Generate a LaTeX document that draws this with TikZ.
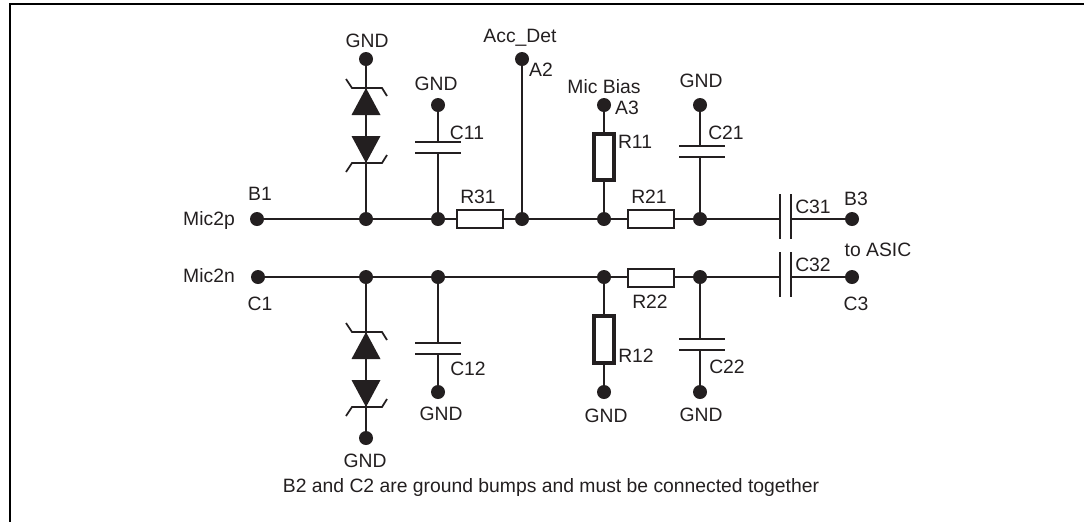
\documentclass[tikz,border=0pt]{standalone}
\usepackage{fontspec}
\setmainfont{Liberation Sans}
\usetikzlibrary{arrows.meta}
\definecolor{ink}{HTML}{231F20}
\tikzset{
    wire/.style={draw=ink, line width=1pt},
    dot/.style={circle, fill=ink, inner sep=0pt, minimum size=0.28cm},
    lbl/.style={text=ink, inner sep=0pt, font=\fontsize{11}{13}\selectfont},
    rstr/.style={rectangle, draw=ink, fill=white, line width=1pt, inner sep=0pt, minimum width=0.91cm, minimum height=0.37cm},
    rstrv/.style={rectangle, draw=ink, fill=white, line width=2.2pt, inner sep=0pt, minimum width=0.4cm, minimum height=0.93cm},
    plateh/.style={rectangle, fill=ink, inner sep=0pt, minimum width=0.92cm, minimum height=0.036cm},
    platev/.style={rectangle, fill=ink, inner sep=0pt, minimum width=0.036cm, minimum height=0.9cm},
    tvs/.pic={
        \fill[ink] (0,0) -- (-14.5,27) -- (14.5,27) -- cycle;
        \draw[ink, line width=1pt] (-20,-9) -- (-14,0) -- (16,0) -- (21,8);
    }
}
\begin{document}
\begin{tikzpicture}[x=0.02cm, y=-0.02cm]

    \useasboundingbox (0,0) rectangle (1084,522);
    \draw[black, line width=1.1pt] (1084,4) -- (10,4) -- (10,522);

    % upper line
    \node[dot] (B1) at (257,219) {};
    \node[dot] (jD1) at (366,219) {};
    \node[dot] (jC11) at (438,219) {};
    \node[rstr] (R31) at (480,219) {};
    \node[dot] (A2j) at (522,219) {};
    \node[dot] (jR11) at (604,219) {};
    \node[rstr] (R21) at (651,219) {};
    \node[dot] (jC21) at (700,219) {};
    \node[platev] (C31a) at (780,216.5) {};
    \node[platev] (C31b) at (791,216.5) {};
    \node[dot] (B3) at (852,219) {};
    \draw[wire] (B1) -- (jD1) -- (jC11) -- (R31) -- (A2j) -- (jR11) -- (R21) -- (jC21) -- (jC21 -| C31a);
    \draw[wire] (C31b |- B3) -- (B3);

    % lower line
    \node[dot] (C1) at (258,277) {};
    \node[dot] (jD2) at (366,277) {};
    \node[dot] (jC12) at (438,277) {};
    \node[dot] (jR12) at (604,277) {};
    \node[rstr] (R22) at (651,278) {};
    \node[dot] (jC22) at (700,277) {};
    \node[platev] (C32a) at (780,274.5) {};
    \node[platev] (C32b) at (791,274.5) {};
    \node[dot] (C3) at (852,277) {};
    \draw[wire] (C1) -- (jD2) -- (jC12) -- (jR12) -- (jR12 -| R22.west);
    \draw[wire] (jC22 -| R22.east) -- (jC22) -- (jC22 -| C32a);
    \draw[wire] (C32b |- C3) -- (C3);

    % protection diodes
    \node[dot] (gD1) at (366,59) {};
    \node[dot] (gD2) at (366,438) {};
    \draw[wire] (gD1) -- (jD1);
    \draw[wire] (jD2) -- (gD2);
    \pic at (366,88) {tvs};
    \pic[yscale=-1] at (366,163) {tvs};
    \pic at (366,332) {tvs};
    \pic[yscale=-1] at (366,407) {tvs};

    % capacitors to ground
    \node[dot] (gC11) at (438,105) {};
    \node[plateh] (C11a) at (438,142) {};
    \node[plateh] (C11b) at (438,153) {};
    \draw[wire] (gC11) -- (C11a);
    \draw[wire] (C11b) -- (jC11);

    \node[dot] (gC21) at (700,105) {};
    \node[plateh] (C21a) at (701.5,146) {};
    \node[plateh] (C21b) at (701.5,157) {};
    \draw[wire] (gC21) -- (gC21 |- C21a);
    \draw[wire] (jC21 |- C21b) -- (jC21);

    \node[dot] (gC12) at (438,392) {};
    \node[plateh] (C12a) at (438,343) {};
    \node[plateh] (C12b) at (438,354) {};
    \draw[wire] (jC12) -- (C12a);
    \draw[wire] (C12b) -- (gC12);

    \node[dot] (gC22) at (700,392) {};
    \node[plateh] (C22a) at (701.5,339) {};
    \node[plateh] (C22b) at (701.5,350) {};
    \draw[wire] (jC22) -- (jC22 |- C22a);
    \draw[wire] (gC22 |- C22b) -- (gC22);

    % bias and detect
    \node[dot] (A2) at (522,59) {};
    \draw[wire] (A2) -- (A2j);

    \node[dot] (A3) at (604,105) {};
    \node[rstrv] (R11) at (604,157) {};
    \draw[wire] (A3) -- (R11) -- (jR11);

    \node[rstrv] (R12) at (604,339.5) {};
    \node[dot] (gR12) at (604,392) {};
    \draw[wire] (jR12) -- (R12) -- (gR12);

    % labels
    \node[lbl] (tGND1) at (367,41) {GND};
    \node[lbl] (tGND2) at (436,84) {GND};
    \node[lbl] (tGND3) at (701,81) {GND};
    \node[lbl] (tGND4) at (365,461) {GND};
    \node[lbl] (tGND5) at (441,414) {GND};
    \node[lbl] (tGND6) at (606,416) {GND};
    \node[lbl] (tGND7) at (701,415) {GND};
    \node[lbl] (tAcc) at (520,38) {Acc\_Det};
    \node[lbl] (tA2) at (541,70) {A2};
    \node[lbl] (tBias) at (604,87) {Mic Bias};
    \node[lbl] (tA3) at (627,108) {A3};
    \node[lbl] (tB1) at (260,194) {B1};
    \node[lbl] (tC1) at (260,304) {C1};
    \node[lbl] (tB3) at (856,199) {B3};
    \node[lbl] (tC3) at (856,304) {C3};
    \node[lbl] (tASIC) at (878,250) {to ASIC};
    \node[lbl] (tMicP) at (209,220) {Mic2p};
    \node[lbl] (tMicN) at (209,276) {Mic2n};
    \node[lbl] (tC11) at (467,133) {C11};
    \node[lbl] (tC12) at (468,369) {C12};
    \node[lbl] (tC21) at (726,133) {C21};
    \node[lbl] (tC22) at (727,367) {C22};
    \node[lbl] (tC31) at (813,207) {C31};
    \node[lbl] (tC32) at (813,265) {C32};
    \node[lbl] (tR11) at (635,142) {R11};
    \node[lbl] (tR12) at (636,356) {R12};
    \node[lbl] (tR21) at (649,197) {R21};
    \node[lbl] (tR22) at (650,302) {R22};
    \node[lbl] (tR31) at (478,197) {R31};
    \node[lbl] (tNote) at (551,487) {B2 and C2 are ground bumps and must be connected together};

\end{tikzpicture}
\end{document}
